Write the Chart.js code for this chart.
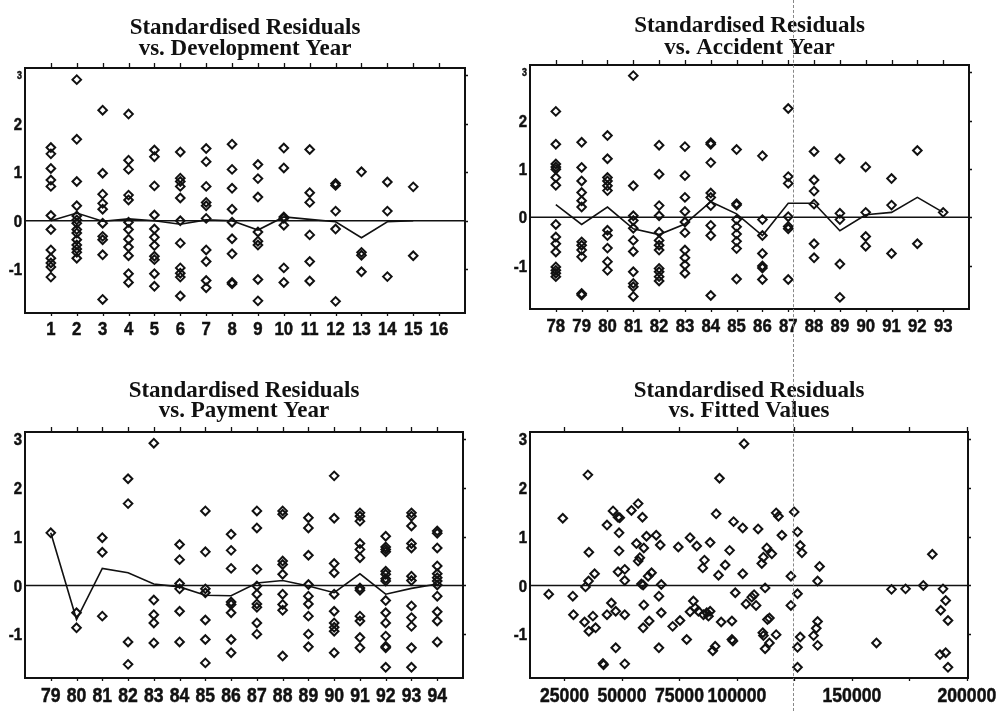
<!DOCTYPE html>
<html>
<head>
<meta charset="utf-8">
<script src="https://cdn.jsdelivr.net/npm/chart.js@4.4.0/dist/chart.umd.min.js"></script>
<style>
  body { margin: 0; background: #fff; width: 998px; height: 711px; position: relative; overflow: hidden; }
  .panel { position: absolute; }
  #fold { position: absolute; left: 793px; top: 0; height: 711px; border-left: 1px dashed #888; }
</style>
</head>
<body>
<div class="panel" style="left:0;top:0;width:499px;height:355px"><canvas id="devChart"></canvas></div>
<div class="panel" style="left:499px;top:0;width:499px;height:355px"><canvas id="accChart"></canvas></div>
<div class="panel" style="left:0;top:355px;width:499px;height:356px"><canvas id="payChart"></canvas></div>
<div class="panel" style="left:499px;top:355px;width:499px;height:356px"><canvas id="fitChart"></canvas></div>
<div id="fold"></div>
<script>
// ---- data ----
const yTicks = [-1, 0, 1, 2, 3];

// development year 1..15
const devYears = [1, 2, 3, 4, 5, 6, 7, 8, 9, 10, 11, 12, 13, 14, 15];
const devTicks = [1, 2, 3, 4, 5, 6, 7, 8, 9, 10, 11, 12, 13, 14, 15, 16];
const devResid = [
  [1.51, 1.38, 1.08, 0.84, 0.71, 0.11, -0.18, -0.60, -0.77, -0.87, -0.95, -1.16],
  [2.91, 1.68, 0.81, 0.31, 0.10, 0.02, -0.05, -0.18, -0.25, -0.39, -0.50, -0.58, -0.65, -0.77],
  [2.28, 0.98, 0.55, 0.36, 0.24, -0.05, -0.32, -0.39, -0.70, -1.62],
  [2.20, 1.25, 1.06, 0.53, 0.43, -0.03, -0.18, -0.38, -0.54, -0.72, -1.09, -1.27],
  [1.46, 1.32, 0.72, 0.12, -0.17, -0.34, -0.51, -0.73, -0.80, -1.09, -1.35],
  [1.42, 0.88, 0.81, 0.71, 0.47, 0.00, -0.46, -0.97, -1.08, -1.16, -1.55],
  [1.49, 1.22, 0.71, 0.38, 0.31, 0.05, -0.60, -0.84, -1.23, -1.38],
  [1.58, 1.06, 0.67, 0.24, -0.03, -0.37, -0.68, -1.27, -1.30],
  [1.16, 0.87, 0.49, -0.23, -0.42, -0.50, -1.21, -1.65],
  [1.50, 1.09, 0.08, 0.05, -0.09, -0.97, -1.27],
  [1.47, 0.58, 0.38, -0.29, -0.84, -1.24],
  [0.77, 0.73, 0.20, -0.17, -1.66],
  [1.01, -0.65, -0.71, -1.05],
  [0.80, 0.20, -1.15],
  [0.70, -0.72]
];
const devMean = [0.00, 0.16, -0.01, 0.04, 0.00, -0.07, 0.02, 0.00, -0.19, 0.08, 0.03, -0.02, -0.35, -0.02, 0.00];

// accident year 78..93
const accYears = [78, 79, 80, 81, 82, 83, 84, 85, 86, 87, 88, 89, 90, 91, 92, 93];
const accTicks = accYears;
const accResid = [
  [2.19, 1.51, 1.10, 1.04, 0.99, 0.82, 0.66, -0.15, -0.41, -0.55, -0.72, -1.03, -1.10, -1.16, -1.23],
  [1.55, 1.03, 0.75, 0.51, 0.34, 0.21, -0.51, -0.58, -0.68, -0.82, -1.58, -1.61],
  [1.69, 1.21, 0.82, 0.75, 0.65, 0.55, -0.27, -0.38, -0.64, -0.92, -1.10],
  [2.93, 0.65, 0.03, -0.07, -0.23, -0.48, -0.71, -1.13, -1.37, -1.44, -1.64],
  [1.49, 0.89, 0.24, 0.03, -0.31, -0.48, -0.58, -0.68, -1.06, -1.13, -1.23, -1.32],
  [1.46, 0.86, 0.41, 0.12, -0.10, -0.32, -0.68, -0.84, -0.99, -1.16],
  [1.54, 1.51, 1.13, 0.50, 0.41, 0.24, -0.17, -0.38, -1.62],
  [1.40, 0.28, 0.25, -0.05, -0.20, -0.35, -0.50, -0.65, -1.28],
  [1.27, -0.05, -0.38, -0.75, -1.01, -1.05, -1.29],
  [2.25, 0.84, 0.70, 0.01, -0.19, -0.24, -1.29],
  [1.36, 0.77, 0.54, 0.27, -0.55, -0.84],
  [1.21, 0.08, -0.05, -0.97, -1.66],
  [1.04, 0.10, -0.40, -0.60],
  [0.80, 0.25, -0.75],
  [1.38, -0.55],
  [0.10]
];
const accMean = [0.26, -0.15, 0.21, -0.24, -0.36, -0.14, 0.32, 0.07, -0.38, 0.29, 0.29, -0.28, 0.05, 0.10, 0.41, 0.10];

// payment year 79..94
const payYears = [79, 80, 81, 82, 83, 84, 85, 86, 87, 88, 89, 90, 91, 92, 93, 94];
const payTicks = payYears;
const payResid = [
  [1.08],
  [-0.56, -0.87],
  [0.98, 0.68, -0.63],
  [2.19, 1.68, -1.16, -1.62],
  [2.92, -0.30, -0.60, -0.77, -1.18],
  [0.84, 0.53, 0.04, -0.07, -0.53, -1.16],
  [1.53, 0.69, -0.07, -0.15, -0.71, -1.11, -1.59],
  [1.05, 0.72, 0.35, -0.34, -0.39, -0.56, -1.11, -1.38],
  [1.53, 1.18, 0.33, -0.01, -0.18, -0.38, -0.45, -0.77, -1.00],
  [1.53, 1.46, 0.50, 0.43, 0.23, -0.18, -0.39, -0.51, -1.45],
  [1.39, 1.18, 0.62, 0.02, -0.22, -0.38, -0.63, -1.00, -1.26],
  [2.25, 1.38, 0.45, 0.26, -0.18, -0.53, -0.77, -0.86, -0.94, -1.38],
  [1.49, 1.42, 1.32, 0.86, 0.74, 0.57, -0.05, -0.10, -0.63, -0.73, -1.07, -1.28],
  [1.01, 0.79, 0.74, 0.69, 0.29, 0.23, 0.14, 0.09, -0.31, -0.56, -0.77, -1.04, -1.25, -1.28, -1.68],
  [1.49, 1.42, 1.22, 0.86, 0.77, 0.19, 0.10, -0.42, -0.66, -0.84, -1.28, -1.68],
  [1.12, 1.07, 0.77, 0.40, 0.24, 0.16, 0.09, 0.01, -0.22, -0.54, -0.73, -1.16]
];
const payMean = [1.08, -0.70, 0.35, 0.26, 0.03, -0.03, -0.20, -0.21, 0.05, 0.10, -0.01, -0.15, 0.24, -0.18, -0.06, 0.03];

// fitted values
const fitTicks = [25000, 50000, 75000, 100000, 125000, 150000, 175000, 200000];
const fitHidden = [125000, 175000];
const fittedX = [
  18150, 24260, 28620, 28900, 35170, 35600, 34150, 35460, 38090, 33730,
  35600, 37370, 38530, 41740, 42000, 43490, 43490, 45390, 46120, 47280,
  47280, 48300, 49030, 48730, 48730, 48300, 51210, 51210, 51210, 51210,
  54120, 57030, 56300, 57030, 57760, 58920, 59500, 58480, 59210, 59500,
  59210, 60670, 61400, 62860, 61840, 64900, 66650, 67100, 66070, 67100,
  66070, 72040, 74510, 75240, 78150, 79610, 79610, 81060, 82520, 81790,
  83250, 85870, 85140, 85440, 86890, 87620, 88350, 88350, 89510, 90530,
  90960, 91980, 92420, 93150, 94900, 96800, 97820, 97820, 98260, 98550,
  99280, 103100, 102530, 102530, 109210, 112260, 103970, 106450, 107460, 108330,
  110820, 111520, 113000, 115180, 117060, 118060, 119550, 113280, 114140, 111260,
  111520, 114140, 112260, 117060, 124910, 123470, 126350, 127530, 128270, 126350,
  123470, 127530, 126350, 126350, 135950, 135080, 135080, 134510, 133330, 135080,
  160690, 167230, 173340, 181060, 184990, 189620, 190790, 188610, 191800, 188310,
  190790, 191800
];
const fittedResid = [
  -0.18, 1.38, -0.22, -0.60, 2.27, 0.68, -0.03, 0.09, 0.24, -0.75,
  -0.94, -0.63, -0.87, -1.60, -1.63, 1.24, -0.60, -0.36, 1.53, -0.53,
  -1.28, 1.40, 1.39, 1.08, 0.71, 0.28, 0.33, 0.10, -0.60, -1.61,
  1.54, 1.68, 0.86, 0.50, 0.57, 1.40, 0.77, 0.03, 0.01, -0.40,
  -0.87, 1.01, 0.19, 0.26, -0.73, 1.03, 0.83, 0.02, -0.22, -0.56,
  -1.28, -0.84, 0.79, -0.72, -1.11, 0.98, -0.54, -0.32, 0.81, -0.46,
  -0.53, 0.52, 0.36, -0.60, -0.56, -0.63, 0.88, -0.53, -1.34, -1.25,
  1.47, 0.21, 2.20, -0.75, 0.42, 0.72, -0.73, -1.11, -1.14, 1.31,
  -0.15, 2.91, 1.18, 0.24, 1.16, -0.05, -0.38, -0.24, -0.19, -0.41,
  0.45, 0.58, 0.77, 0.65, 1.49, 1.42, 1.03, -0.70, -0.67, -0.97,
  -1.03, -1.18, -1.30, -1.01, 1.51, 0.19, 1.10, 0.82, 0.67, -0.17,
  -0.41, -1.06, -1.27, -1.68, 0.39, 0.09, -0.74, -0.88, -1.03, -1.23,
  -1.18, -0.08, -0.07, 0.00, 0.64, -0.07, -0.31, -0.51, -0.72, -1.42,
  -1.38, -1.68
];

// ---- drawing ----
const ink = '#111';
const labelFamily = '"Liberation Sans", Arial, sans-serif';
const titleFont = 'bold 23px "Liberation Serif", "DejaVu Serif", serif';
const squeeze = 0.88; // the labels in the scan are a narrow bold sans

const groupPoints = (cats, groups) => cats.flatMap((c, i) => groups[i].map(v => ({ x: c, y: v })));
const linePoints = (cats, vals) => cats.map((c, i) => ({ x: c, y: vals[i] }));

function narrowText(ctx, text, x, y, size, align) {
  ctx.save();
  ctx.font = 'bold ' + size + 'px ' + labelFamily;
  ctx.textAlign = align;
  ctx.textBaseline = 'alphabetic';
  ctx.translate(x, y);
  ctx.scale(squeeze, 1);
  ctx.fillText(text, 0, 0);
  ctx.lineWidth = 0.5;
  ctx.strokeText(text, 0, 0);
  ctx.restore();
}

const framePlugin = {
  id: 'frame',
  beforeDatasetsDraw(chart) {
    const { ctx, chartArea: a, scales: { y } } = chart;
    const y0 = y.getPixelForValue(0);
    ctx.save();
    ctx.strokeStyle = ink;
    ctx.lineWidth = 1.6;
    ctx.beginPath();
    ctx.moveTo(a.left, y0);
    ctx.lineTo(a.right, y0);
    ctx.stroke();
    ctx.restore();
  },
  afterDraw(chart, args, opts) {
    const { ctx, chartArea: a, scales: { x, y } } = chart;
    ctx.save();
    ctx.strokeStyle = ink;
    ctx.fillStyle = ink;
    ctx.lineWidth = 2;
    ctx.strokeRect(a.left, a.top, a.right - a.left, a.bottom - a.top);
    ctx.lineWidth = 1.3;
    ctx.beginPath();
    x.ticks.forEach(t => {
      const px = Math.round(x.getPixelForValue(t.value)) + 0.5;
      ctx.moveTo(px, a.top);
      ctx.lineTo(px, a.top - 5);
      ctx.moveTo(px, a.bottom);
      ctx.lineTo(px, a.bottom + 3);
    });
    y.ticks.forEach(t => {
      const py = Math.round(y.getPixelForValue(t.value)) + 0.5;
      ctx.moveTo(a.right, py);
      ctx.lineTo(a.right + 3, py);
    });
    ctx.stroke();

    // tick labels, placed from the scales
    x.ticks.forEach(t => {
      if (opts.hidden && opts.hidden.includes(t.value)) return;
      narrowText(ctx, String(t.value), x.getPixelForValue(t.value), a.bottom + opts.xBase, opts.xSize, 'center');
    });
    y.ticks.forEach(t => {
      const size = (opts.smallThree && t.value === 3) ? 10 : 17;
      narrowText(ctx, String(t.value), a.left - 3, y.getPixelForValue(t.value) + size * 0.36, size, 'right');
    });

    // two-line title centred over the plot
    ctx.font = titleFont;
    ctx.textAlign = 'center';
    ctx.textBaseline = 'alphabetic';
    const cx = (a.left + a.right) / 2;
    ctx.fillText(opts.title[0], cx, a.top - opts.offs[0]);
    ctx.fillText(opts.title[1], cx, a.top - opts.offs[1]);
    ctx.restore();
  }
};

function panel(id, cfg) {
  const datasets = [{
    data: cfg.points,
    pointStyle: 'rectRot',
    pointRadius: 4.3,
    borderColor: ink,
    borderWidth: 2,
    backgroundColor: 'rgba(0,0,0,0)'
  }];
  if (cfg.mean) {
    datasets.push({
      data: cfg.mean,
      showLine: true,
      pointRadius: 0,
      borderColor: ink,
      borderWidth: 1.6,
      tension: 0
    });
  }
  new Chart(document.getElementById(id), {
    type: 'scatter',
    data: { datasets },
    options: {
      responsive: true,
      maintainAspectRatio: false,
      animation: false,
      layout: { padding: cfg.pad },
      plugins: {
        legend: { display: false },
        tooltip: { enabled: false },
        frame: {
          title: cfg.title, offs: cfg.offs, hidden: cfg.hidden,
          xSize: cfg.xFont, xBase: cfg.xBase, smallThree: cfg.smallThree
        }
      },
      scales: {
        x: {
          type: 'linear',
          min: cfg.xMin,
          max: cfg.xMax,
          grid: { display: false, drawTicks: false },
          border: { display: false },
          afterBuildTicks: s => { s.ticks = cfg.xTicks.map(v => ({ value: v })); },
          afterFit: s => { s.height = cfg.xH; },
          ticks: { display: false }
        },
        y: {
          type: 'linear',
          min: -1.9,
          max: 3.15,
          grid: { display: false, drawTicks: false },
          border: { display: false },
          afterBuildTicks: s => { s.ticks = yTicks.map(v => ({ value: v })); },
          afterFit: s => { s.width = cfg.yW; },
          ticks: { display: false }
        }
      }
    },
    plugins: [framePlugin]
  });
}

panel('devChart', {
  points: groupPoints(devYears, devResid),
  mean: linePoints(devYears, devMean),
  xMin: 0, xMax: 17, xTicks: devTicks, xFont: 19, xBase: 22,
  pad: { top: 68, right: 34, left: 0, bottom: 0 }, yW: 25, xH: 42,
  title: ['Standardised Residuals', 'vs. Development Year'], offs: [34, 13], smallThree: true
});

panel('accChart', {
  points: groupPoints(accYears, accResid),
  mean: linePoints(accYears, accMean),
  xMin: 77, xMax: 94, xTicks: accTicks, xFont: 19, xBase: 23,
  pad: { top: 65, right: 29, left: 0, bottom: 0 }, yW: 31, xH: 46,
  title: ['Standardised Residuals', 'vs. Accident Year'], offs: [33, 11], smallThree: true
});

panel('payChart', {
  points: groupPoints(payYears, payResid),
  mean: linePoints(payYears, payMean),
  xMin: 78, xMax: 95, xTicks: payTicks, xFont: 20, xBase: 24,
  pad: { top: 77, right: 36, left: 0, bottom: 0 }, yW: 25, xH: 33,
  title: ['Standardised Residuals', 'vs. Payment Year'], offs: [35, 15]
});

panel('fitChart', {
  points: fittedX.map((v, i) => ({ x: v, y: fittedResid[i] })),
  xMin: 10000, xMax: 200500, xTicks: fitTicks, hidden: fitHidden, xFont: 20, xBase: 24,
  pad: { top: 77, right: 30, left: 0, bottom: 0 }, yW: 31, xH: 33,
  title: ['Standardised Residuals', 'vs. Fitted Values'], offs: [35, 15]
});
</script>
</body>
</html>
